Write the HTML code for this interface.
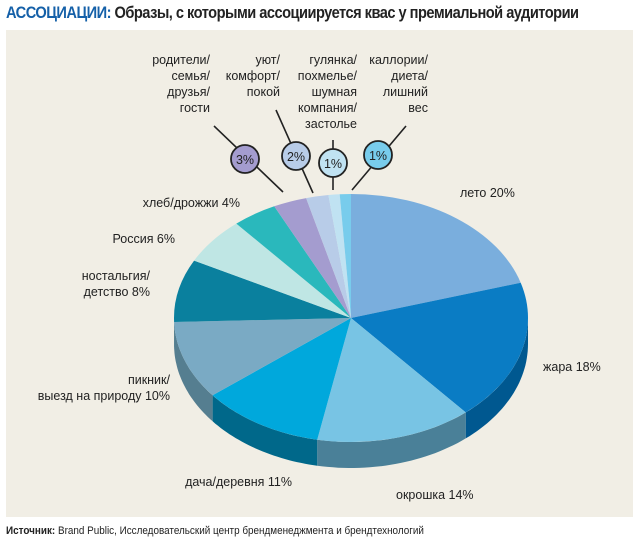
<!DOCTYPE html>
<html><head><meta charset="utf-8">
<style>
html,body{margin:0;padding:0;background:#fff;}
body{width:640px;height:543px;position:relative;overflow:hidden;font-family:"Liberation Sans Narrow","Liberation Sans",sans-serif;}
#t{position:absolute;left:6px;top:3px;font-size:17px;font-weight:bold;color:#222;letter-spacing:-0.6px;transform:scaleX(0.86);transform-origin:left top;white-space:nowrap;}
#t span{color:#1560a8;}
#panel{position:absolute;left:6px;top:30px;width:627px;height:487px;background:#f1eee5;}
#src{position:absolute;left:6px;top:525px;font-size:11px;color:#222;transform:scaleX(0.9);transform-origin:left top;white-space:nowrap;}
svg{position:absolute;left:0;top:0;}
svg text{font-family:"Liberation Sans",sans-serif;font-size:12.5px;fill:#222;}
</style></head><body>
<div id="t"><span>АССОЦИАЦИИ:</span> Образы, с которыми ассоциируется квас у премиальной аудитории</div>
<div id="panel"></div>
<svg id="s" width="640" height="543" viewBox="0 0 640 543"></svg>
<div id="src"><b>Источник:</b> Brand Public, Исследовательский центр брендменеджмента и брендтехнологий</div>
<script>
(function(){
var cx=351,cy=318,rx=177,ry=124,d=26;
var data=[[20,'#7aaedd','#4a7ea8'],[18,'#0a7cc4','#005890'],[14,'#78c4e4','#4a8098'],[11,'#00a8dc','#00688a'],[10,'#7aaac4','#557e90'],[8,'#0a809e','#065a70'],[6,'#bfe6e4','#8aa'],[4,'#2ab8bc','#188'],[3,'#a49ccf','#77a'],[2,'#b8cce8','#89a'],[1,'#c0e2f2','#9ab'],[1,'#78ccec','#59a']];
var tot=98,s='',a=0;
function P(t,dy){return (cx+rx*Math.sin(t)).toFixed(1)+','+(cy-ry*Math.cos(t)+(dy||0)).toFixed(1);}
var sideS='',topS='';
data.forEach(function(x){
 var a0=a,a1=a+x[0]/tot*2*Math.PI;a=a1;
 var lo=Math.max(a0,Math.PI/2),hi=Math.min(a1,3*Math.PI/2);
 if(hi>lo){var p='M'+P(lo),n=30,i;
  for(i=1;i<=n;i++)p+=' L'+P(lo+(hi-lo)*i/n);
  for(i=n;i>=0;i--)p+=' L'+P(lo+(hi-lo)*i/n,d);
  sideS+='<path d="'+p+'Z" fill="'+x[2]+'"/>';}
 var large=(a1-a0)>Math.PI?1:0;
 topS+='<path d="M'+cx+','+cy+' L'+P(a0)+' A'+rx+','+ry+' 0 '+large+' 1 '+P(a1)+'Z" fill="'+x[1]+'"/>';
});
s+=sideS+topS;
s+='<g stroke="#222" stroke-width="1.6">'+
'<line x1="214" y1="126" x2="283" y2="192"/>'+
'<line x1="276" y1="110" x2="313" y2="193"/>'+
'<line x1="333" y1="140" x2="333" y2="190"/>'+
'<line x1="406" y1="126" x2="352" y2="190"/>'+
'</g>';
function circ(x,y,c,t){s+='<circle cx="'+x+'" cy="'+y+'" r="14" fill="'+c+'" stroke="#222" stroke-width="1.8"/><text x="'+x+'" y="'+(y+5)+'" text-anchor="middle" font-size="14">'+t+'</text>';}
circ(245,159,'#a49ccf','3%');circ(296,156,'#b8cce8','2%');circ(333,163,'#c0e2f2','1%');circ(378,155,'#78ccec','1%');
function lab(x,y,lines,anc){lines.forEach(function(l,i){s+='<text x="'+x+'" y="'+(y+i*16)+'" text-anchor="'+(anc||'end')+'">'+l+'</text>';});}
lab(210,64,['родители/','семья/','друзья/','гости']);
lab(280,64,['уют/','комфорт/','покой']);
lab(357,64,['гулянка/','похмелье/','шумная','компания/','застолье']);
lab(428,64,['каллории/','диета/','лишний','вес']);
lab(460,197,['лето 20%'],'start');
lab(543,371,['жара 18%'],'start');
lab(396,499,['окрошка 14%'],'start');
lab(292,486,['дача/деревня 11%']);
lab(170,384,['пикник/','выезд на природу 10%']);
lab(150,280,['ностальгия/','детство 8%']);
lab(175,243,['Россия 6%']);
lab(240,207,['хлеб/дрожжи 4%']);
document.getElementById('s').innerHTML=s;
})();
</script>
</body></html>
